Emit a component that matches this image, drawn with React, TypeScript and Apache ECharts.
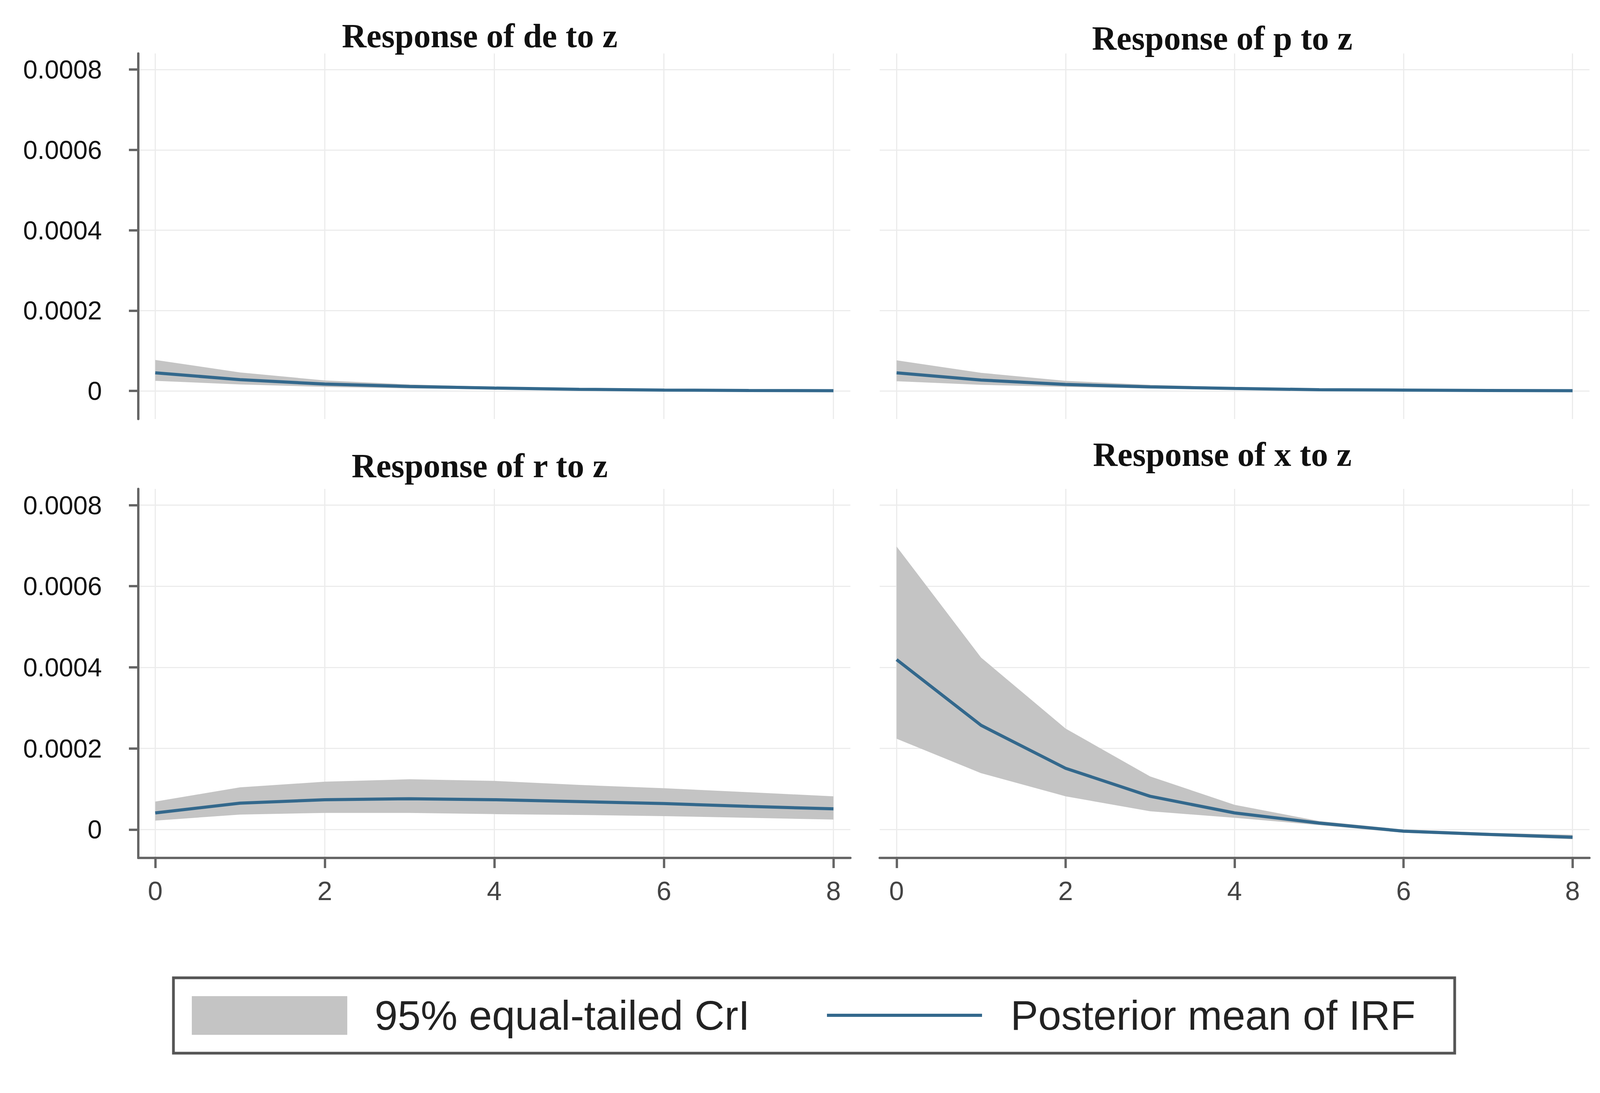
import React, { useEffect, useRef } from "react";
import * as echarts from "echarts";

const horizon = [0, 1, 2, 3, 4, 5, 6, 7, 8];
const xTicks = [0, 2, 4, 6, 8];
const yTicks = [0, 0.0002, 0.0004, 0.0006, 0.0008];

const panelTitles = ["Response of de to z", "Response of p to z", "Response of r to z", "Response of x to z"];

const deMean = [0.000045, 0.000028, 0.000017, 0.000011, 0.000007, 0.000004, 0.000002, 0.000001, 0.0000005];
const deUpper = [0.000077, 0.000046, 0.000026, 0.000016, 0.00001, 0.000006, 0.000004, 0.000002, 0.000001];
const deLower = [0.000025, 0.000016, 0.00001, 0.000006, 0.000004, 0.000002, 0.000001, 0.0000005, 0];

const pMean = [0.000045, 0.000027, 0.000016, 0.00001, 0.000006, 0.000003, 0.000002, 0.000001, 0.0000005];
const pUpper = [0.000076, 0.000045, 0.000025, 0.000015, 0.000009, 0.000005, 0.000003, 0.000002, 0.000001];
const pLower = [0.000024, 0.000015, 0.00001, 0.000006, 0.000003, 0.000002, 0.000001, 0.0000005, 0];

const rMean = [0.000041, 0.000065, 0.0000735, 0.000076, 0.0000735, 0.000069, 0.000064, 0.000057, 0.000051];
const rUpper = [0.000069, 0.000104, 0.000118, 0.000124, 0.00012, 0.00011, 0.000102, 0.000092, 0.000082];
const rLower = [0.000022, 0.000037, 0.000041, 0.000041, 0.000038, 0.000036, 0.000033, 0.000029, 0.0000245];

const xMean = [0.000419, 0.000257, 0.000151, 0.000082, 0.000041, 0.000016, -0.000004, -0.000012, -0.000019];
const xUpper = [0.000698, 0.000424, 0.000249, 0.000131, 0.000061, 0.000021, 0.0, -0.000008, -0.000013];
const xLower = [0.000224, 0.000139, 0.000082, 0.000045, 0.000029, 0.000011, -0.000008, -0.000016, -0.000024];

const legendBand = "95% equal-tailed CrI";
const legendLine = "Posterior mean of IRF";

const BAND = "#c4c4c4";
const LINE = "#33688c";
const AXIS = "#666666";
const GRIDC = "#ececec";

export default function App() {
  const ref = useRef<HTMLDivElement>(null);
  useEffect(() => {
    document.body.style.margin = "0";
    if (!ref.current) return;
    const chart = echarts.init(ref.current, null, { renderer: "svg" });

    const panels = [
      { mean: deMean, lo: deLower, hi: deUpper },
      { mean: pMean, lo: pLower, hi: pUpper },
      { mean: rMean, lo: rLower, hi: rUpper },
      { mean: xMean, lo: xLower, hi: xUpper },
    ];
    const grids = [
      { left: 354, top: 137, width: 1823, height: 936 },
      { left: 2252, top: 137, width: 1817, height: 936 },
      { left: 354, top: 1252, width: 1823, height: 945 },
      { left: 2252, top: 1252, width: 1817, height: 945 },
    ];
    const titlePos = [
      [1228, 91],
      [3129, 97],
      [1228, 1192],
      [3129, 1163],
    ];

    const xAxes = grids.map((_, i) => {
      const bottom = i >= 2;
      return {
        type: "value",
        gridIndex: i,
        min: -0.2,
        max: 8.2,
        axisLine: { show: bottom, onZero: false, lineStyle: { color: AXIS, width: 6 } },
        axisTick: { show: bottom, customValues: xTicks, length: 26, lineStyle: { color: AXIS, width: 6 } },
        axisLabel: {
          show: bottom,
          customValues: xTicks,
          fontSize: 68,
          fontFamily: "Liberation Sans",
          color: "#444",
          margin: 50,
        },
        splitLine: { show: true, lineStyle: { color: GRIDC, width: 3 } },
      };
    });
    const yAxes = grids.map((_, i) => {
      const left = i % 2 === 0;
      return {
        type: "value",
        gridIndex: i,
        min: -0.00007,
        max: 0.00084,
        axisLine: { show: left, onZero: false, lineStyle: { color: AXIS, width: 6 } },
        axisTick: { show: left, customValues: yTicks, length: 24, lineStyle: { color: AXIS, width: 6 } },
        axisLabel: {
          show: left,
          customValues: yTicks,
          fontSize: 66,
          fontFamily: "Liberation Sans",
          color: "#111",
          margin: 93,
          formatter: (v: number) => (Math.abs(v) < 1e-12 ? "0" : v.toFixed(4)),
        },
        splitLine: { show: true, lineStyle: { color: GRIDC, width: 3 } },
      };
    });

    const series: any[] = [];
    panels.forEach((p, i) => {
      series.push({
        type: "custom",
        name: legendBand,
        xAxisIndex: i,
        yAxisIndex: i,
        silent: true,
        z: 2,
        data: [[0, 0]],
        renderItem: (_params: any, api: any) => {
          const pts: number[][] = [];
          horizon.forEach((h, k) => pts.push(api.coord([h, p.hi[k]])));
          for (let k = horizon.length - 1; k >= 0; k--) pts.push(api.coord([horizon[k], p.lo[k]]));
          return { type: "polygon", shape: { points: pts }, style: { fill: BAND } };
        },
      });
      series.push({
        type: "line",
        name: legendLine,
        xAxisIndex: i,
        yAxisIndex: i,
        symbol: "none",
        lineStyle: { color: LINE, width: 8 },
        data: horizon.map((h, k) => [h, p.mean[k]]),
        z: 3,
      });
    });

    const graphic: any[] = titlePos.map((pos, i) => ({
      type: "text",
      x: pos[0],
      y: pos[1],
      style: {
        text: panelTitles[i],
        fontSize: 87,
        fontWeight: "bold",
        fontFamily: "Liberation Serif",
        fill: "#111",
        textAlign: "center",
        textVerticalAlign: "middle",
      },
    }));
    graphic.push(
      {
        type: "rect",
        shape: { x: 444, y: 2504, width: 3280, height: 193 },
        style: { fill: "#fff", stroke: "#555", lineWidth: 7 },
      },
      {
        type: "rect",
        shape: { x: 491, y: 2551, width: 398, height: 99 },
        style: { fill: BAND },
      },
      {
        type: "text",
        x: 959,
        y: 2600,
        style: {
          text: legendBand,
          fontSize: 106,
          fontFamily: "Liberation Sans",
          fill: "#222",
          textVerticalAlign: "middle",
        },
      },
      {
        type: "line",
        shape: { x1: 2117, y1: 2600, x2: 2514, y2: 2600 },
        style: { stroke: LINE, lineWidth: 8 },
      },
      {
        type: "text",
        x: 2587,
        y: 2600,
        style: {
          text: legendLine,
          fontSize: 106,
          fontFamily: "Liberation Sans",
          fill: "#222",
          textVerticalAlign: "middle",
        },
      }
    );

    chart.setOption({
      animation: false,
      backgroundColor: "#ffffff",
      grid: grids,
      xAxis: xAxes,
      yAxis: yAxes,
      series,
      graphic,
    });
    return () => chart.dispose();
  }, []);
  return <div ref={ref} style={{ width: 4174, height: 2799 }} />;
}
